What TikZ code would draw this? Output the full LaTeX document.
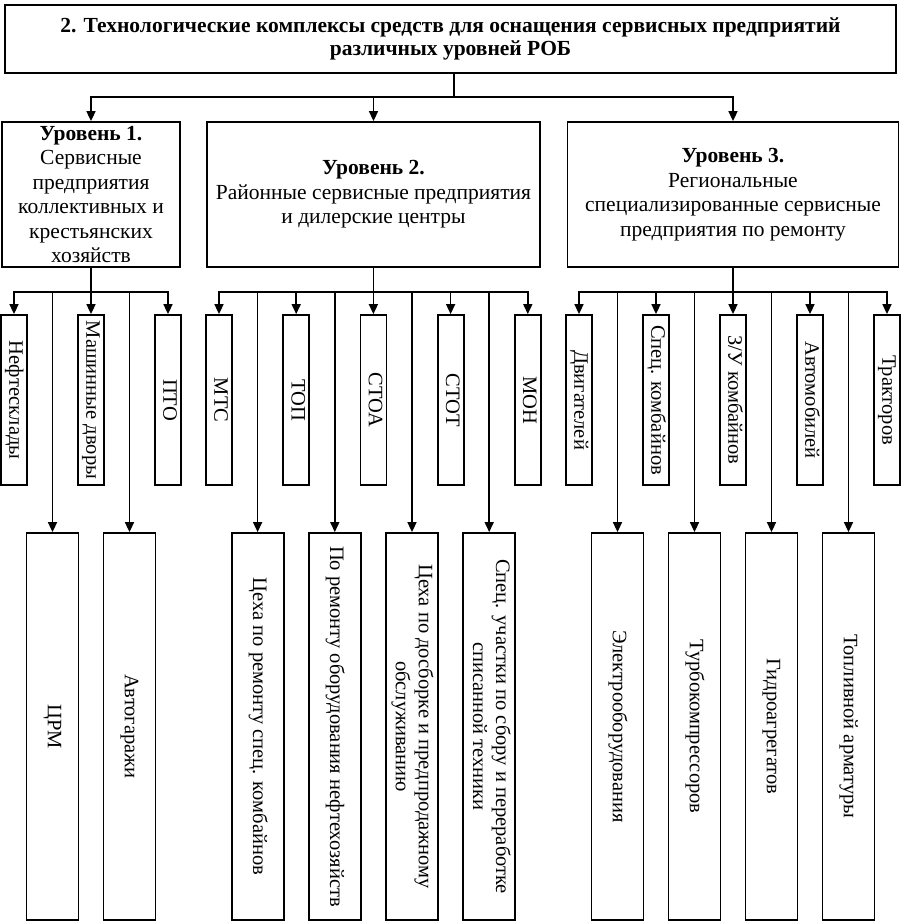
\documentclass[tikz,border=0pt]{standalone}
\usepackage{fontspec}
\setmainfont{Liberation Serif}
\usepackage{graphicx}
\usetikzlibrary{arrows.meta}
\newcommand{\vtext}[1]{\rotatebox{-90}{\begin{tabular}{@{}c@{}}#1\end{tabular}}}
\begin{document}
\begin{tikzpicture}[x=1pt,y=-1pt,
  box/.style={draw, line width=1.8pt, inner sep=0pt, align=center},
  lvl/.style={box, minimum height=145pt, font=\fontsize{21.5}{24.5}\selectfont},
  small/.style={box, minimum width=26pt, minimum height=170pt, font=\fontsize{20.5}{23}\selectfont},
  big/.style={box, minimum width=52pt, minimum height=387pt, font=\fontsize{20.5}{23}\selectfont},
  ln/.style={line width=1.6pt},
  arr/.style={ln, -{Triangle[width=9pt,length=10pt]}}]
\useasboundingbox (0,0) rectangle (901,922);
% title
\node[box, minimum width=891pt, minimum height=68pt, font=\bfseries\fontsize{21.5}{23}\selectfont] (t) at (450.5,39)
  {2. Технологические комплексы средств для оснащения сервисных предприятий\\различных уровней РОБ};
% levels
\node[lvl, minimum width=178pt] (l1) at (91,194.5)
  {\textbf{Уровень 1.}\\Сервисные\\предприятия\\коллективных и\\крестьянских\\хозяйств};
\node[lvl, minimum width=333pt] (l2) at (373.5,194.5)
  {\textbf{Уровень 2.}\\Районные сервисные предприятия\\и дилерские центры};
\node[lvl, minimum width=331pt] (l3) at (733,194.5)
  {\textbf{Уровень 3.}\\Региональные\\специализированные сервисные\\предприятия по ремонту};
% hubs
\coordinate (h0) at (454,97);
\coordinate (h1) at (91,292);
\coordinate (h2) at (373.5,292);
\coordinate (h3) at (733,292);
% level 1 children
\node[small] (a1) at (14,400) {\vtext{Нефтесклады}};
\node[small] (a2) at (91,400) {\vtext{Машинные дворы}};
\node[small] (a3) at (168,400) {\vtext{ПТО}};
\node[big] (b1) at (52.5,726.5) {\vtext{ЦРМ}};
\node[big] (b2) at (129.5,726.5) {\vtext{Автогаражи}};
% level 2 children
\node[small] (c1) at (219,400) {\vtext{МТС}};
\node[small] (c2) at (296.2,400) {\vtext{ТОП}};
\node[small] (c3) at (373.4,400) {\vtext{СТОА}};
\node[small] (c4) at (450.6,400) {\vtext{СТОТ}};
\node[small] (c5) at (527.8,400) {\vtext{МОН}};
\node[big] (d1) at (257.6,726.5) {\vtext{Цеха по ремонту спец. комбайнов}};
\node[big] (d2) at (334.8,726.5) {\vtext{По ремонту оборудования нефтехозяйств}};
\node[big] (d3) at (412,726.5) {\vtext{Цеха по досборке и предпродажному\\обслуживанию}};
\node[big] (d4) at (489.2,726.5) {\vtext{Спец. участки по сбору и переработке\\списанной техники}};
% level 3 children
\node[small] (e1) at (579,400) {\vtext{Двигателей}};
\node[small] (e2) at (656,400) {\vtext{Спец. комбайнов}};
\node[small] (e3) at (733,400) {\vtext{З/У комбайнов}};
\node[small] (e4) at (810,400) {\vtext{Автомобилей}};
\node[small] (e5) at (887,400) {\vtext{Тракторов}};
\node[big] (f1) at (617.5,726.5) {\vtext{Электрооборудования}};
\node[big] (f2) at (694.5,726.5) {\vtext{Турбокомпрессоров}};
\node[big] (f3) at (771.5,726.5) {\vtext{Гидроагрегатов}};
\node[big] (f4) at (848.5,726.5) {\vtext{Топливной арматуры}};
% connectors top
\draw[ln] (t.south -| h0) -- (h0);
\foreach \n in {l1,l2,l3} \draw[arr] (h0) -| (\n.north);
% level 1
\draw[ln] (l1.south) -- (h1);
\foreach \n in {a1,a2,a3,b1,b2} \draw[arr] (h1) -| (\n.north);
% level 2
\draw[ln] (l2.south) -- (h2);
\foreach \n in {c1,c2,c3,c4,c5,d1,d2,d3,d4} \draw[arr] (h2) -| (\n.north);
% level 3
\draw[ln] (l3.south) -- (h3);
\foreach \n in {e1,e2,e3,e4,e5,f1,f2,f3,f4} \draw[arr] (h3) -| (\n.north);
\end{tikzpicture}
\end{document}
